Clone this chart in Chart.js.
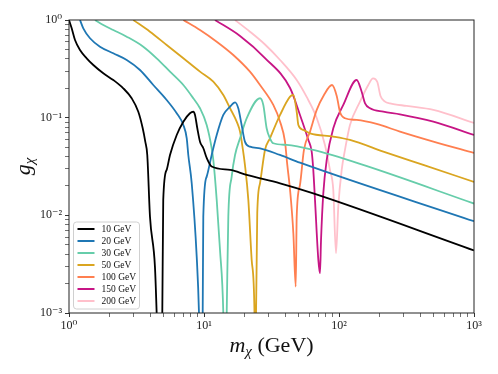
<!DOCTYPE html>
<html>
<head>
<meta charset="utf-8">
<script src="https://cdn.jsdelivr.net/npm/chart.js@4.4.0/dist/chart.umd.min.js"></script>
<style>
html, body { margin: 0; padding: 0; background: #fff; }
</style>
</head>
<body>
<canvas id="grafico" width="498" height="374"></canvas>
<script>
// Curve: coppie [m_chi (GeV), g_chi]
const curva10 = [[1.0,1.0],[1.047,0.822],[1.108,0.624],[1.206,0.493],[1.352,0.4055],[1.514,0.346],[1.795,0.2848],[2.128,0.243],[2.523,0.2],[2.913,0.158],[3.261,0.1151],[3.516,0.0779],[3.673,0.0568],[3.80,0.0415],[3.98,0.0097],[4.33,0.003],[4.46,0.001],[4.68,0.0001],[4.91,0.001],[4.99,0.0144],[5.29,0.0292],[5.6,0.0415],[6.28,0.0665],[7.03,0.091],[7.87,0.111],[8.33,0.115],[8.58,0.1066],[8.92,0.0779],[9.34,0.0568],[9.89,0.0486],[10.47,0.0387],[11.4,0.0316],[15.6,0.0292],[20.7,0.0259],[36.6,0.0213],[64.5,0.0168],[1000,0.00438]];
const curva20 = [[1.206,1.0],[1.276,0.822],[1.431,0.65],[1.696,0.533],[2.128,0.456],[2.676,0.3896],[3.355,0.3077],[4.21,0.216],[5.29,0.1518],[6.28,0.111],[7.03,0.0842],[7.45,0.0615],[7.65,0.0415],[8.11,0.0213],[8.83,0.00378],[9.18,0.001],[9.48,0.0001],[9.78,0.001],[9.88,0.0097],[10.47,0.0249],[11.4,0.0415],[12.42,0.0665],[13.9,0.1066],[15.6,0.1296],[16.98,0.1437],[17.95,0.1248],[19.0,0.0842],[20.1,0.0568],[21.9,0.0505],[26.0,0.0486],[36.5,0.0415],[51.4,0.0346],[1000,0.0087]];
const curva30 = [[1.558,1.0],[1.795,0.889],[2.128,0.79],[2.676,0.675],[3.55,0.533],[4.46,0.4055],[5.6,0.296],[7.03,0.216],[8.33,0.158],[9.34,0.1248],[10.47,0.0842],[11.4,0.0486],[11.72,0.0369],[12.42,0.0144],[13.14,0.00442],[13.9,0.001],[14.3,0.0001],[14.73,0.001],[15.14,0.0097],[16.03,0.0249],[16.98,0.0415],[18.49,0.0615],[20.7,0.0986],[26.0,0.158],[27.5,0.135],[29.1,0.078],[30.8,0.0615],[32.6,0.0547],[41.0,0.0526],[64.5,0.0467],[151,0.0328],[1000,0.0132]];
const curva50 = [[2.995,1.0],[3.98,0.759],[5.29,0.555],[7.03,0.4055],[9.34,0.296],[11.72,0.2335],[13.9,0.1707],[15.6,0.1248],[17.47,0.091],[18.49,0.0719],[19.35,0.0486],[20.1,0.0328],[21.3,0.0144],[22.55,0.0035],[23.66,0.001],[24.0,0.0001],[24.3,0.001],[24.8,0.0105],[26.0,0.0213],[28.3,0.0467],[30.8,0.0615],[36.6,0.1066],[43.4,0.164],[45.9,0.1707],[48.6,0.115],[50.0,0.0842],[54.5,0.0749],[61.0,0.0692],[90.7,0.064],[120.6,0.0591],[213,0.0449],[421,0.0328],[1000,0.022]];
const curva100 = [[7.03,1.0],[9.34,0.79],[12.42,0.6],[16.48,0.4385],[21.9,0.296],[26.0,0.216],[32.6,0.135],[36.6,0.091],[39.8,0.0568],[41.4,0.0328],[43.4,0.0182],[45.9,0.00656],[47.8,0.00186],[48.6,0.0097],[51.4,0.0205],[55.0,0.0467],[61.0,0.0719],[68.4,0.12],[77.4,0.1707],[88.8,0.216],[96.2,0.1667],[101.7,0.1143],[110.7,0.0986],[135.2,0.0947],[190,0.0862],[283,0.0719],[500,0.0568],[1000,0.0435]];
const curva150 = [[12.06,1.0],[18.49,0.686],[28.3,0.408],[43.4,0.2014],[51.4,0.1066],[59.3,0.0591],[62.8,0.0446],[64.5,0.0292],[66.4,0.0144],[70.3,0.0035],[72.3,0.00255],[73.6,0.0056],[76.5,0.0168],[81.1,0.0369],[90.7,0.078],[107.6,0.135],[135.2,0.243],[147.2,0.1845],[156,0.1404],[169.8,0.1248],[213,0.115],[283,0.1083],[500,0.091],[1000,0.0665]];
const curva200 = [[16.98,1.0],[21.9,0.759],[28.3,0.561],[36.6,0.3896],[48.6,0.243],[57.6,0.163],[68.4,0.0993],[78.7,0.0526],[85.7,0.0292],[90.7,0.0182],[95.0,0.0041],[98.8,0.0123],[104.7,0.0292],[110.7,0.0467],[120.6,0.0842],[143.1,0.146],[164.8,0.216],[178.6,0.253],[192.3,0.232],[203,0.1667],[219,0.146],[238.8,0.1404],[317,0.1318],[500,0.12],[1000,0.0883]];

const curve = [curva10, curva20, curva30, curva50, curva100, curva150, curva200];
const etichette = ['10 GeV', '20 GeV', '30 GeV', '50 GeV', '100 GeV', '150 GeV', '200 GeV'];
const colori = ['#000000', '#1f77b4', '#66cdaa', '#daa520', '#ff7f50', '#c71585', '#ffc0cb'];

// Tacche principali e relative etichette
const xMaggiori = [1, 10, 100, 1000];
const xEtichette = ['10⁰', '10¹', '10²', '10³'];
const yMaggiori = [0.001, 0.01, 0.1, 1];
const yEtichette = ['10⁻³', '10⁻²', '10⁻¹', '10⁰'];

const SERIF = "'Liberation Serif', 'DejaVu Serif', serif";

// tacche minori 2..9 per ogni decade
function tacche(maggiori) {
    let t = [];
    for (let i = 0; i < maggiori.length; i++) {
        t.push(maggiori[i]);
        if (i < maggiori.length - 1) {
            for (let k = 2; k <= 9; k++) t.push(maggiori[i] * k);
        }
    }
    return t;
}

function etichetta(valore, maggiori, testi) {
    for (let i = 0; i < maggiori.length; i++) {
        if (Math.abs(valore / maggiori[i] - 1) < 1e-6) return testi[i];
    }
    return '';
}

function eMaggiore(valore, maggiori) {
    return etichetta(valore, maggiori, maggiori.map(() => 'x')) !== '';
}

// scrive testo con pedice (m_chi, g_chi)
function scriviConPedice(ctx, parti) {
    let w = 0;
    parti.forEach(p => { ctx.font = p.font; w += ctx.measureText(p.t).width; });
    let x = -w / 2;
    parti.forEach(p => {
        ctx.font = p.font;
        ctx.fillText(p.t, x, p.dy);
        x += ctx.measureText(p.t).width;
    });
}

const decorazioni = {
    id: 'decorazioni',
    afterDraw(chart) {
        const { ctx, chartArea: a } = chart;
        ctx.save();

        // cornice
        ctx.strokeStyle = '#222';
        ctx.lineWidth = 1;
        ctx.strokeRect(a.left, a.top, a.right - a.left, a.bottom - a.top);

        ctx.fillStyle = '#111';
        ctx.textBaseline = 'alphabetic';

        // titolo asse x
        ctx.save();
        ctx.translate((a.left + a.right) / 2, 352);
        scriviConPedice(ctx, [
            { t: 'm', font: 'italic 22px ' + SERIF, dy: 0 },
            { t: 'χ', font: 'italic 15px ' + SERIF, dy: 4 },
            { t: ' (GeV)', font: '22px ' + SERIF, dy: 0 }
        ]);
        ctx.restore();

        // titolo asse y
        ctx.save();
        ctx.translate(30, (a.top + a.bottom) / 2);
        ctx.rotate(-Math.PI / 2);
        scriviConPedice(ctx, [
            { t: 'g', font: 'italic 22px ' + SERIF, dy: 0 },
            { t: 'χ', font: 'italic 15px ' + SERIF, dy: 4 }
        ]);
        ctx.restore();

        // legenda
        const lx = a.left + 4.5, ly = a.bottom - 91, lw = 66, lh = 87;
        ctx.beginPath();
        ctx.roundRect(lx, ly, lw, lh, 3);
        ctx.fillStyle = 'rgba(255,255,255,0.85)';
        ctx.fill();
        ctx.strokeStyle = '#d0d0d0';
        ctx.lineWidth = 1;
        ctx.stroke();

        ctx.font = '9.5px ' + SERIF;
        ctx.textBaseline = 'middle';
        chart.data.datasets.forEach((ds, i) => {
            const y = ly + 7 + i * 12;
            ctx.strokeStyle = ds.borderColor;
            ctx.lineWidth = 2;
            ctx.beginPath();
            ctx.moveTo(lx + 4, y);
            ctx.lineTo(lx + 21, y);
            ctx.stroke();
            ctx.fillStyle = '#111';
            ctx.fillText(ds.label, lx + 28, y + 0.5);
        });

        ctx.restore();
    }
};

const datasets = curve.map((c, i) => ({
    label: etichette[i],
    data: c.map(p => ({ x: p[0], y: p[1] })),
    borderColor: colori[i],
    borderWidth: 1.8,
    pointRadius: 0,
    cubicInterpolationMode: 'monotone',
    fill: false
}));

new Chart(document.getElementById('grafico'), {
    type: 'line',
    data: { datasets: datasets },
    options: {
        responsive: false,
        animation: false,
        devicePixelRatio: 1,
        events: [],
        layout: { padding: { top: 20, right: 24, left: 0, bottom: 0 } },
        plugins: {
            legend: { display: false },
            tooltip: { enabled: false }
        },
        scales: {
            x: {
                type: 'logarithmic',
                min: 1,
                max: 1000,
                afterFit: s => { s.height = 61; },
                afterBuildTicks: s => { s.ticks = tacche(xMaggiori).map(v => ({ value: v })); },
                border: { display: false },
                grid: {
                    drawOnChartArea: false,
                    drawTicks: true,
                    tickLength: 4,
                    color: '#333',
                    tickWidth: c => eMaggiore(c.tick.value, xMaggiori) ? 1 : 0.7
                },
                ticks: {
                    autoSkip: false,
                    maxRotation: 0,
                    padding: 2,
                    color: '#222',
                    font: { family: SERIF, size: 12 },
                    callback: v => etichetta(v, xMaggiori, xEtichette)
                }
            },
            y: {
                type: 'logarithmic',
                min: 0.001,
                max: 1,
                afterFit: s => { s.width = 69; },
                afterBuildTicks: s => { s.ticks = tacche(yMaggiori).map(v => ({ value: v })); },
                border: { display: false },
                grid: {
                    drawOnChartArea: false,
                    drawTicks: true,
                    tickLength: 4,
                    color: '#333',
                    tickWidth: c => eMaggiore(c.tick.value, yMaggiori) ? 1 : 0.7
                },
                ticks: {
                    autoSkip: false,
                    padding: 3,
                    color: '#222',
                    font: { family: SERIF, size: 12 },
                    callback: v => etichetta(v, yMaggiori, yEtichette)
                }
            }
        }
    },
    plugins: [decorazioni]
});
</script>
</body>
</html>
